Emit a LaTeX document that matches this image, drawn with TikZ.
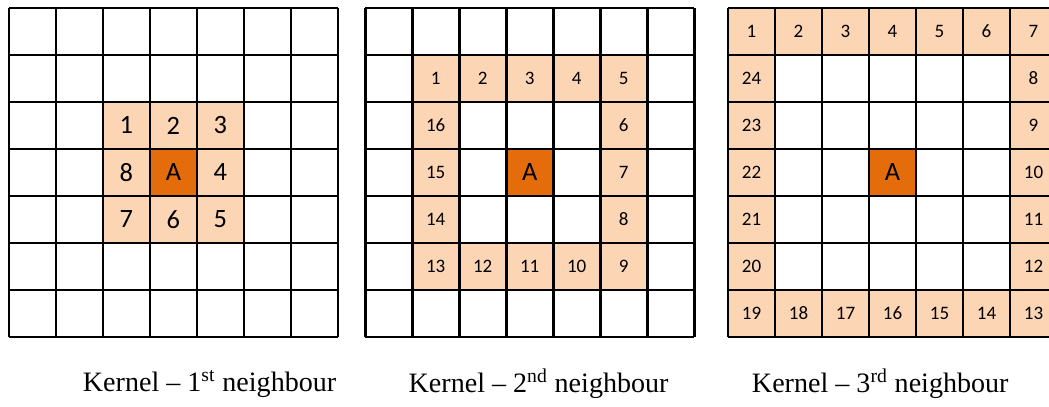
\documentclass[tikz,border=0pt]{standalone}
\usepackage{fontspec}
\setmainfont{Liberation Serif}
\newfontfamily\cellfont{Carlito}
\usepackage{xcolor}
\usepackage{tikz}
\usetikzlibrary{positioning}

\definecolor{peach}{HTML}{FCD5B5}
\definecolor{darkorange}{HTML}{E46C0A}

\begin{document}
\begin{tikzpicture}[
  cell/.style={minimum size=1cm,inner sep=0pt,fill=peach,font=\cellfont\fontsize{11.5}{11.5}\selectfont},
  bigcell/.style={cell,font=\cellfont\fontsize{16}{16}\selectfont},
  centre/.style={cell,fill=darkorange,font=\cellfont\fontsize{16}{16}\selectfont},
  gridline/.style={draw=black,line width=1.7pt},
  caption/.style={font=\fontsize{17}{17}\selectfont,anchor=center}
]
\useasboundingbox (0,0) rectangle (22.32,-8.64);

% first neighbour
\begin{scope}[shift={(0.19,-0.17)}]
\node[bigcell] (k1-1) at (2.5,-2.5) {1};
\node[bigcell] (k1-2) at (3.5,-2.5) {2};
\node[bigcell] (k1-3) at (4.5,-2.5) {3};
\node[bigcell] (k1-4) at (4.5,-3.5) {4};
\node[bigcell] (k1-5) at (4.5,-4.5) {5};
\node[bigcell] (k1-6) at (3.5,-4.5) {6};
\node[bigcell] (k1-7) at (2.5,-4.5) {7};
\node[bigcell] (k1-8) at (2.5,-3.5) {8};
\node[centre] (k1-A) at (3.5,-3.5) {A};
\draw[gridline] (0,0) grid (7,-7);
\end{scope}

% second neighbour
\begin{scope}[shift={(7.77,-0.17)}]
\foreach \n/\c/\r in {1/1/1,2/2/1,3/3/1,4/4/1,5/5/1,6/5/2,7/5/3,8/5/4,
  9/5/5,10/4/5,11/3/5,12/2/5,13/1/5,14/1/4,15/1/3,16/1/2}
  \node[cell] (k2-\n) at (\c+0.5,-\r-0.5) {\n};
\node[centre] (k2-A) at (3.5,-3.5) {A};
\draw[gridline] (0,0) grid (7,-7);
\end{scope}

% third neighbour
\begin{scope}[shift={(15.49,-0.17)}]
\foreach \n/\c/\r in {1/0/0,2/1/0,3/2/0,4/3/0,5/4/0,6/5/0,7/6/0,8/6/1,
  9/6/2,10/6/3,11/6/4,12/6/5,13/6/6,14/5/6,15/4/6,16/3/6,17/2/6,18/1/6,
  19/0/6,20/0/5,21/0/4,22/0/3,23/0/2,24/0/1}
  \node[cell] (k3-\n) at (\c+0.5,-\r-0.5) {\n};
\node[centre] (k3-A) at (3.5,-3.5) {A};
\draw[gridline] (0,0) grid (7,-7);
\end{scope}

\node[caption] (cap1) at (4.46,-8.17) {Kernel -- 1\textsuperscript{st} neighbour};
\node[caption] (cap2) at (11.46,-8.17) {Kernel -- 2\textsuperscript{nd} neighbour};
\node[caption] (cap3) at (18.73,-8.17) {Kernel -- 3\textsuperscript{rd} neighbour};
\end{tikzpicture}
\end{document}
